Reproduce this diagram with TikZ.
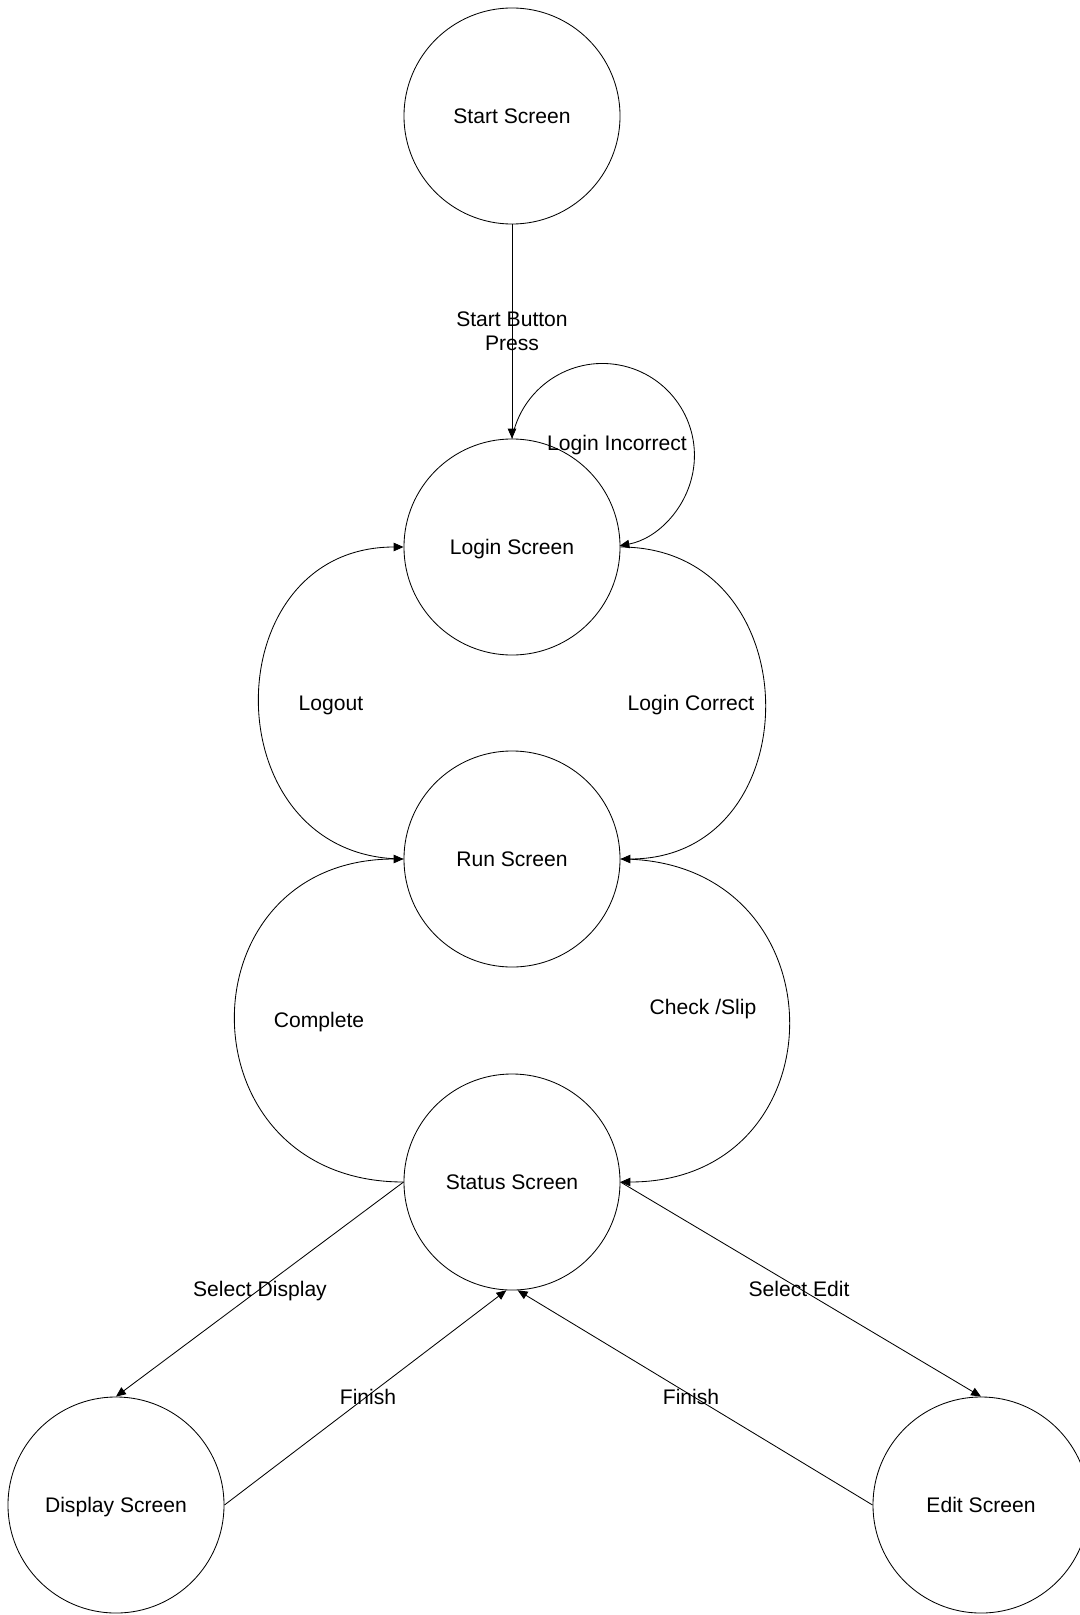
\documentclass[tikz,border=0pt]{standalone}
\usepackage{fontspec}
\setmainfont{Liberation Sans}
\usetikzlibrary{arrows.meta}
\tikzset{
  stscreen/.style={circle, draw=black, line width=0.6pt, minimum size=5.4cm, inner sep=0pt, text depth=0pt, font=\fontsize{15}{18}\selectfont},
  stedge/.style={line width=0.6pt, draw=black, -{Triangle[length=7pt,width=6pt]}},
  stlabel/.style={font=\fontsize{15}{17.5}\selectfont, align=center, inner sep=0pt, text depth=0pt},
}

\begin{document}
\begin{tikzpicture}[x=0.025cm, y=-0.025cm]
\useasboundingbox (0,0) rectangle (1079,1615);
% screens
\node[stscreen] (start) at (512,116) {Start Screen};
\node[stscreen] (login) at (512,547) {Login Screen};
\node[stscreen] (run) at (512,859) {Run Screen};
\node[stscreen] (status) at (512,1182) {Status Screen};
\node[stscreen] (display) at (116,1505) {Display Screen};
\node[stscreen] (edit) at (981,1505) {Edit Screen};
% transitions
\draw[stedge] (start.south) -- (login.north);
\draw[stedge] (login.north) arc[start angle=190.6, end angle=439.3, radius=92];
\draw[stedge] (login.east) .. controls +(192,0) and +(192,0) .. (run.east);
\draw[stedge] (run.west) .. controls +(-192,0) and +(-192,0) .. (login.west);
\draw[stedge] (status.west) .. controls +(-224,0) and +(-224,0) .. (run.west);
\draw[stedge] (run.east) .. controls +(224,0) and +(224,0) .. (status.east);
\draw[stedge] (status.west) -- (display.north);
\draw[stedge] (display.east) -- (status.-93);
\draw[stedge] (status.east) -- (edit.north);
\draw[stedge] (edit.west) -- (status.-87);
% labels
\node[stlabel] (lbstart) at (512,331) {Start Button\\Press};
\node[stlabel] (lbincorrect) at (617,443) {Login Incorrect};
\node[stlabel] (lblogout) at (331,703) {Logout};
\node[stlabel] (lbcorrect) at (691,703) {Login Correct};
\node[stlabel] (lbcomplete) at (319,1020) {Complete};
\node[stlabel] (lbcheck) at (703,1007) {Check /Slip};
\node[stlabel] (lbseldisp) at (260,1289) {Select Display};
\node[stlabel] (lbseledit) at (799,1289) {Select Edit};
\node[stlabel] (lbfinishl) at (368,1397) {Finish};
\node[stlabel] (lbfinishr) at (691,1397) {Finish};
\end{tikzpicture}
\end{document}
